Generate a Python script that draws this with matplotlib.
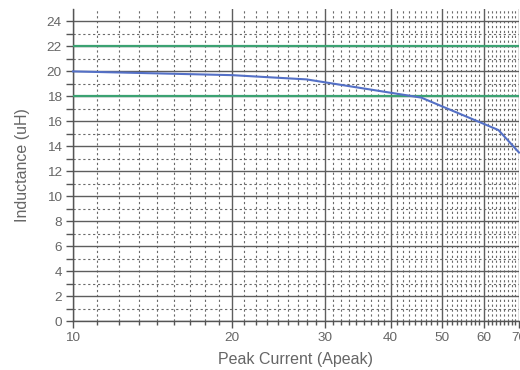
import numpy as np
import matplotlib
matplotlib.use("Agg")
import matplotlib.pyplot as plt
from matplotlib.ticker import FixedLocator, NullFormatter

plt.rcParams['font.family'] = ['Liberation Sans', 'DejaVu Sans']

# Inductance vs peak current
current = [10, 20, 27.7, 45.7, 64, 70]
inductance = [20.0, 19.7, 19.36, 17.9, 15.3, 13.5]

# Tolerance limits
upper_limit = 22
lower_limit = 18

x_major = [10, 20, 30, 40, 50, 60, 70]
y_major = list(range(0, 25, 2))
y_minor = list(range(1, 25, 2))

# minor x positions: each step between labelled ticks split into nine parts
x_minor = []
for a, b in zip(x_major[:-1], x_major[1:]):
    x_minor += [a + (b - a) * k / 9 for k in range(1, 9)]

fig = plt.figure(figsize=(5.2, 3.7), dpi=100)
ax = fig.add_axes([73 / 520, 1 - 321 / 370, (519 - 73) / 520, (321 - 9) / 370])

ax.set_xscale('log')
ax.set_xlim(10, 70)
ax.set_ylim(0, 25)

ax.xaxis.set_major_locator(FixedLocator(x_major))
ax.xaxis.set_minor_locator(FixedLocator(x_minor))
ax.set_xticklabels([str(v) for v in x_major])
ax.xaxis.set_minor_formatter(NullFormatter())
ax.yaxis.set_major_locator(FixedLocator(y_major))
ax.yaxis.set_minor_locator(FixedLocator(y_minor))

major_col = '#5e5e5e'
minor_col = '#6a6a6a'
ax.grid(which='major', color=major_col, linewidth=1.0, linestyle='-')
ax.grid(which='minor', color=minor_col, linewidth=0.8, linestyle=(0, (2, 2.4)))
ax.set_axisbelow(True)

for s in ['top', 'right']:
    ax.spines[s].set_visible(False)
for s in ['left', 'bottom']:
    ax.spines[s].set_color('#555555')
    ax.spines[s].set_linewidth(1.0)

ax.tick_params(which='major', length=5, width=1, color='#555555',
               labelcolor='#666666', labelsize=9.7, pad=3)
ax.tick_params(which='minor', length=3, width=1, color='#555555')
ax.tick_params(axis='y', which='minor', length=5)

ax.axhline(upper_limit, color='#3ba272', linewidth=1.6, zorder=3)
ax.axhline(lower_limit, color='#3ba272', linewidth=1.6, zorder=3)
ax.plot(current, inductance, color='#5470c6', linewidth=1.5, zorder=4, clip_on=False)

ax.set_xlabel('Peak Current (Apeak)', fontsize=11.5, color='#666666', labelpad=6)
ax.set_ylabel('Inductance (uH)', fontsize=11.5, color='#666666', labelpad=12)

fig.savefig('out.png', dpi=100)
